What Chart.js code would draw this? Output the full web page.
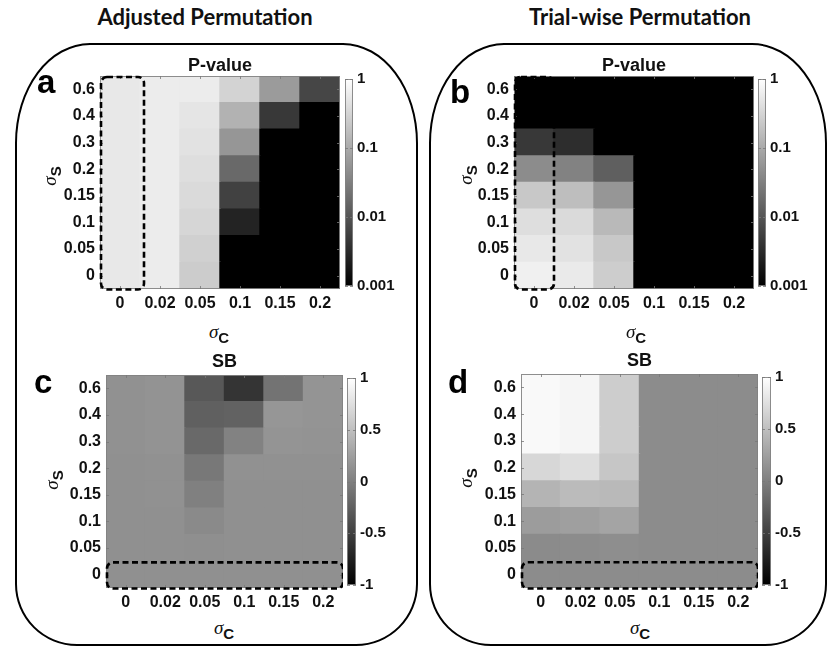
<!DOCTYPE html>
<html><head><meta charset="utf-8">
<script src="https://cdn.jsdelivr.net/npm/chart.js@4.4.1/dist/chart.umd.min.js"></script>
<style>
body{margin:0;background:#fff;width:828px;height:647px;overflow:hidden;position:relative;font-family:"Liberation Sans",Arial,sans-serif}
canvas{position:absolute}
.box{position:absolute;border:2px solid #000;box-sizing:border-box}
.head{position:absolute;font-family:Lato,"Open Sans",sans-serif;font-weight:700;font-size:22px;line-height:26px;text-align:center;color:#111}
.letter{position:absolute;font-family:"Liberation Sans",Arial,sans-serif;font-weight:700;font-size:33px;line-height:32px;color:#000}
.lab{position:absolute;width:40px;height:20px;line-height:20px;text-align:center;white-space:nowrap;color:#111}
.lab .sig{font-family:"Liberation Serif","DejaVu Serif",serif;font-style:italic;font-size:19px}
.lab .sub{font-family:"Liberation Sans",Arial,sans-serif;font-weight:700;font-size:15px;position:relative;top:5px}
.rot{transform:rotate(-90deg);transform-origin:50% 50%}
</style></head>
<body>
<div class="box" style="left:15px;top:43px;width:403px;height:603px;border-radius:75px 75px 62px 62px / 100px 100px 62px 62px"></div>
<div class="box" style="left:429px;top:43px;width:398px;height:603px;border-radius:75px 75px 62px 62px / 100px 100px 62px 62px"></div>
<div class="head" style="left:0;top:4px;width:410px">Adjusted Permutation</div>
<div class="head" style="left:430px;top:4px;width:420px">Trial-wise Permutation</div>

<canvas id="hmA"></canvas><canvas id="cbA"></canvas>
<canvas id="hmB"></canvas><canvas id="cbB"></canvas>
<canvas id="hmC"></canvas><canvas id="cbC"></canvas>
<canvas id="hmD"></canvas><canvas id="cbD"></canvas>

<div class="letter" style="left:37px;top:66px">a</div>
<div class="letter" style="left:450px;top:76px">b</div>
<div class="letter" style="left:34px;top:366px">c</div>
<div class="letter" style="left:448px;top:366px">d</div>

<div class="lab rot" style="left:30px;top:166px"><span class="sig">σ</span><span class="sub">S</span></div>
<div class="lab rot" style="left:446px;top:165px"><span class="sig">σ</span><span class="sub">S</span></div>
<div class="lab rot" style="left:32px;top:470px"><span class="sig">σ</span><span class="sub">S</span></div>
<div class="lab rot" style="left:446px;top:468px"><span class="sig">σ</span><span class="sub">S</span></div>

<div class="lab" style="left:199px;top:322px"><span class="sig">σ</span><span class="sub">C</span></div>
<div class="lab" style="left:616px;top:322px"><span class="sig">σ</span><span class="sub">C</span></div>
<div class="lab" style="left:204px;top:618px"><span class="sig">σ</span><span class="sub">C</span></div>
<div class="lab" style="left:620px;top:618px"><span class="sig">σ</span><span class="sub">C</span></div>

<script>
// ---- data ----
const xLabels = ['0', '0.02', '0.05', '0.1', '0.15', '0.2'];           // sigma_C
const yLabels = ['0.6', '0.4', '0.3', '0.2', '0.15', '0.1', '0.05', '0']; // sigma_S (top -> bottom)

// P-value, adjusted permutation (rows top->bottom, cols left->right)
const pAdjusted = [
  [0.54, 0.60, 0.60, 0.30, 0.066, 0.0066],
  [0.54, 0.60, 0.50, 0.124, 0.0045, 0.001],
  [0.54, 0.60, 0.46, 0.058, 0.001, 0.001],
  [0.54, 0.60, 0.41, 0.017, 0.001, 0.001],
  [0.54, 0.60, 0.37, 0.0058, 0.001, 0.001],
  [0.54, 0.60, 0.33, 0.0026, 0.001, 0.001],
  [0.54, 0.60, 0.28, 0.001, 0.001, 0.001],
  [0.54, 0.60, 0.25, 0.001, 0.001, 0.001]
];
// P-value, trial-wise permutation
const pTrial = [
  [0.001, 0.001, 0.001, 0.001, 0.001, 0.001],
  [0.001, 0.001, 0.001, 0.001, 0.001, 0.001],
  [0.0045, 0.0034, 0.001, 0.001, 0.001, 0.001],
  [0.044, 0.034, 0.013, 0.001, 0.001, 0.001],
  [0.225, 0.17, 0.058, 0.001, 0.001, 0.001],
  [0.41, 0.37, 0.15, 0.001, 0.001, 0.001],
  [0.54, 0.46, 0.225, 0.001, 0.001, 0.001],
  [0.66, 0.57, 0.26, 0.001, 0.001, 0.001]
];
// SB, adjusted permutation
const sbAdjusted = [
  [0.14, 0.15, -0.31, -0.59, -0.10, 0.16],
  [0.14, 0.15, -0.25, -0.23, 0.18, 0.16],
  [0.14, 0.15, -0.18, 0.02, 0.16, 0.15],
  [0.13, 0.14, -0.06, 0.14, 0.14, 0.14],
  [0.13, 0.14, 0.00, 0.13, 0.13, 0.13],
  [0.13, 0.13, 0.08, 0.13, 0.13, 0.13],
  [0.13, 0.13, 0.12, 0.13, 0.13, 0.13],
  [0.13, 0.13, 0.13, 0.13, 0.13, 0.13]
];
// SB, trial-wise permutation
const sbTrial = [
  [0.95, 0.92, 0.61, 0.10, 0.10, 0.10],
  [0.95, 0.92, 0.61, 0.10, 0.10, 0.10],
  [0.95, 0.92, 0.61, 0.10, 0.10, 0.10],
  [0.69, 0.74, 0.55, 0.10, 0.10, 0.10],
  [0.41, 0.47, 0.45, 0.10, 0.10, 0.10],
  [0.22, 0.25, 0.29, 0.10, 0.10, 0.10],
  [0.09, 0.10, 0.11, 0.10, 0.10, 0.10],
  [0.10, 0.10, 0.10, 0.10, 0.10, 0.10]
];
const pTicks = [0.001, 0.01, 0.1, 1];
const sbTicks = [-1, -0.5, 0, 0.5, 1];

// ---- colour maps ----
function grayOf(t){ t = Math.max(0, Math.min(1, t)); const g = Math.round(255 * t); return `rgb(${g},${g},${g})`; }
const pGray = p => grayOf((Math.log10(p) + 3) / 3);
const sbGray = v => grayOf((v + 1) / 2);

// ---- frame / ticks / dashed box plugin ----
const framePlugin = {
  id: 'frame',
  afterDatasetsDraw(chart, args, opts) {
    const {ctx, chartArea: a} = chart;
    ctx.save();
    ctx.strokeStyle = 'rgba(130,130,130,0.9)';
    ctx.lineWidth = 1;
    ctx.strokeRect(a.left + 0.5, a.top + 0.5, a.width - 1, a.height - 1);
    ctx.strokeStyle = 'rgba(120,120,120,0.8)';
    const ln = (x1, y1, x2, y2) => { ctx.beginPath(); ctx.moveTo(x1, y1); ctx.lineTo(x2, y2); ctx.stroke(); };
    const xs = chart.scales.x, ys = chart.scales.y;
    if (opts.xTicks && xs) xs.ticks.forEach((t, i) => { const px = Math.round(xs.getPixelForTick(i)) + 0.5; ln(px, a.top, px, a.top + 3); ln(px, a.bottom, px, a.bottom - 3); });
    if (ys) ys.ticks.forEach((t, i) => { const py = Math.round(ys.getPixelForTick(i)) + 0.5; ln(a.left, py, a.left + 3, py); ln(a.right, py, a.right - 3, py); });
    if (opts.box) {
      const b = opts.box, nC = xLabels.length, nR = yLabels.length;
      const cw = a.width / nC;
      const x0 = xs.getPixelForValue(b.c0) - cw / 2 + 1, x1 = xs.getPixelForValue(b.c1) + cw / 2 + (b.padR || 0);
      const y0 = ys.getPixelForValue(nR - b.r0) + 1, y1 = ys.getPixelForValue(nR - 1 - b.r1) + 0.5;
      ctx.strokeStyle = '#000'; ctx.lineWidth = 2.6; ctx.setLineDash([6, 3.5]);
      ctx.beginPath(); ctx.roundRect(x0, y0, x1 - x0, y1 - y0, 6); ctx.stroke();
    }
    ctx.restore();
  }
};

const tickFont = {family: '"Liberation Sans", Arial, sans-serif', weight: 'bold', size: 16};

function heatmap(id, spec, title, padB, values, toGray, box) {
  const YW = 60, XH = 28, TH = 20 + padB;
  const cv = document.getElementById(id);
  cv.width = YW + spec.W; cv.height = TH + spec.H + XH;
  cv.style.left = (spec.L - YW) + 'px'; cv.style.top = (spec.T - TH) + 'px';
  const nR = yLabels.length;
  const datasets = [];
  for (let k = 0; k < nR; k++) {          // bottom row first
    const r = nR - 1 - k;
    datasets.push({
      label: yLabels[r],
      data: xLabels.map(() => 1),
      backgroundColor: values[r].map(toGray),
      borderWidth: 0, barPercentage: 1, categoryPercentage: 1, inflateAmount: 0.7
    });
  }
  new Chart(cv, {
    type: 'bar',
    data: {labels: xLabels, datasets},
    plugins: [framePlugin],
    options: {
      responsive: false, animation: false, events: [],
      layout: {padding: 0},
      plugins: {
        legend: {display: false}, tooltip: {enabled: false},
        title: {display: true, text: title, fullSize: false, color: '#111',
          font: {family: '"Liberation Sans", Arial, sans-serif', weight: 'bold', size: 18, lineHeight: '20px'},
          padding: {top: 0, bottom: padB}},
        frame: {xTicks: true, box}
      },
      scales: {
        x: {type: 'category', stacked: true, offset: true,
          grid: {display: false, drawTicks: false}, border: {display: false},
          ticks: {font: tickFont, color: '#111', padding: 5, maxRotation: 0, autoSkip: false},
          afterFit: s => { s.height = XH; }},
        y: {type: 'linear', stacked: true, min: 0, max: nR,
          grid: {display: false, drawTicks: false}, border: {display: false},
          afterBuildTicks: s => { s.ticks = yLabels.map((_, i) => ({value: i + 0.5})); },
          ticks: {font: tickFont, color: '#111', padding: 5, callback: v => yLabels[nR - 1 - Math.floor(v)]},
          afterFit: s => { s.width = YW; }}
      }
    }
  });
}

function colorbar(id, spec, type, min, max, ticks) {
  const LW = 50, PAD = 10;
  const cv = document.getElementById(id);
  cv.width = spec.W + LW; cv.height = spec.H + 2 * PAD;
  cv.style.left = spec.L + 'px'; cv.style.top = (spec.T - PAD) + 'px';
  new Chart(cv, {
    type: 'bar',
    data: {labels: ['cb'], datasets: [{
      data: [[min, max]],
      backgroundColor: c => {
        const a = c.chart.chartArea; if (!a) return '#888';
        const g = c.chart.ctx.createLinearGradient(0, a.bottom, 0, a.top);
        g.addColorStop(0, '#000'); g.addColorStop(1, '#fff'); return g;
      },
      borderWidth: 0, barPercentage: 1, categoryPercentage: 1
    }]},
    plugins: [framePlugin],
    options: {
      responsive: false, animation: false, events: [],
      layout: {padding: {top: PAD, bottom: PAD, left: 0, right: 0}},
      plugins: {legend: {display: false}, tooltip: {enabled: false}, frame: {xTicks: false}},
      scales: {
        x: {display: false, offset: true},
        y: {type, position: 'right', min, max,
          grid: {display: false, drawTicks: false}, border: {display: false},
          afterBuildTicks: s => { s.ticks = ticks.map(v => ({value: v})); },
          ticks: {font: {family: '"Liberation Sans", Arial, sans-serif', weight: 'bold', size: 15}, color: '#111', padding: 4,
            callback: v => String(v)},
          afterFit: s => { s.width = LW; }}
      }
    }
  });
}

heatmap('hmA', {L: 100, T: 76, W: 240, H: 213}, 'P-value', 0, pAdjusted, pGray, {c0: 0, c1: 0, r0: 0, r1: 7, padR: 4});
colorbar('cbA', {L: 345, T: 76, W: 8, H: 213}, 'logarithmic', 0.001, 1, pTicks);
heatmap('hmB', {L: 514, T: 76, W: 240, H: 213}, 'P-value', 0, pTrial, pGray, {c0: 0, c1: 0, r0: 0, r1: 7, padR: 0});
colorbar('cbB', {L: 758, T: 76, W: 8, H: 213}, 'logarithmic', 0.001, 1, pTicks);
heatmap('hmC', {L: 106, T: 375, W: 237, H: 213}, 'SB', 3, sbAdjusted, sbGray, {c0: 0, c1: 5, r0: 7, r1: 7, padR: 0});
colorbar('cbC', {L: 347, T: 375, W: 9, H: 213}, 'linear', -1, 1, sbTicks);
heatmap('hmD', {L: 521, T: 374, W: 237, H: 214}, 'SB', 3, sbTrial, sbGray, {c0: 0, c1: 5, r0: 7, r1: 7, padR: 0});
colorbar('cbD', {L: 762, T: 374, W: 9, H: 214}, 'linear', -1, 1, sbTicks);
</script>
</body></html>
